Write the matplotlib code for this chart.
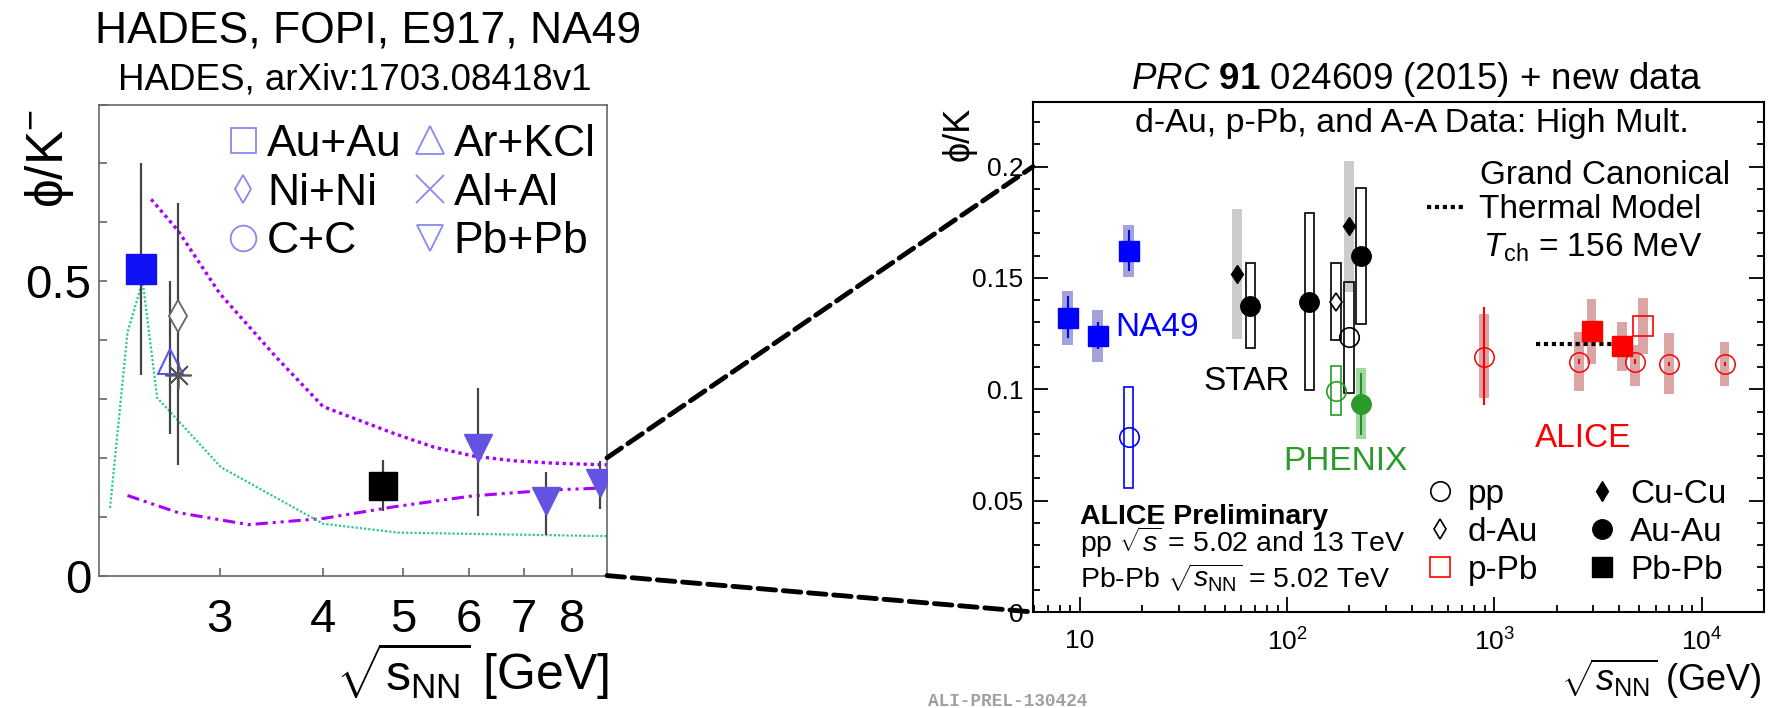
import numpy as np
import matplotlib
matplotlib.use("Agg")
import matplotlib.pyplot as plt
import matplotlib.ticker as mticker
from matplotlib.lines import Line2D
from matplotlib.patches import Rectangle, ConnectionPatch

plt.rcParams['font.family'] = ['Liberation Sans', 'DejaVu Sans']
plt.rcParams['mathtext.fontset'] = 'custom'
plt.rcParams['mathtext.rm'] = 'Liberation Sans'
plt.rcParams['mathtext.it'] = 'Liberation Sans:italic'
plt.rcParams['mathtext.bf'] = 'Liberation Sans:bold'

# ---------------- left panel data (HADES, FOPI, E917, NA49) ----------------
auau_x, auau_y, auau_lo, auau_hi = [2.41], [0.521], [0.34], [0.70]
arkcl_x, arkcl_y, arkcl_lo, arkcl_hi = [2.61], [0.365], [0.241], [0.50]
nini_x, nini_y, nini_lo, nini_hi = [2.67], [0.44], [0.188], [0.632]
alal_x, alal_y = [2.67], [0.34]
e917_x, e917_y, e917_lo, e917_hi = [4.73], [0.153], [0.109], [0.197]
pbpb_x = [6.16, 7.45, 8.66]
pbpb_y = [0.216, 0.126, 0.157]
pbpb_lo = [0.101, 0.069, 0.113]
pbpb_hi = [0.319, 0.176, 0.194]

upper_x = [2.478, 2.67, 3.0, 3.51, 4.0, 4.88, 5.45, 6.08, 6.8, 7.58, 8.82]
upper_y = [0.639, 0.586, 0.479, 0.371, 0.287, 0.241, 0.218, 0.203, 0.195, 0.191, 0.188]
lower_x = [2.32, 2.67, 3.25, 4.0, 4.88, 6.08, 7.58, 8.82]
lower_y = [0.136, 0.107, 0.0865, 0.097, 0.117, 0.1355, 0.1455, 0.149]
green_x = [2.21, 2.32, 2.42, 2.52, 3.01, 4.0, 4.93, 8.82]
green_y = [0.115, 0.413, 0.50, 0.302, 0.184, 0.088, 0.073, 0.067]

left_xticks = [3, 4, 5, 6, 7, 8]

# ---------------- right panel data (phi/K vs sqrt(s_NN)) ----------------
na49_x = [8.75, 12.2, 17.2]
na49_y = [0.132, 0.124, 0.162]
na49_stat_lo = [0.123, 0.118, 0.153]
na49_stat_hi = [0.1417, 0.130, 0.1716]
na49_sys_lo = [0.120, 0.1124, 0.1506]
na49_sys_hi = [0.1443, 0.1357, 0.1739]
na49pp_x, na49pp_y, na49pp_lo, na49pp_hi = [17.2], [0.0785], [0.0556], [0.101]

star_cucu_x = [57.3, 198.7]
star_cucu_y = [0.1517, 0.1731]
star_cucu_lo = [0.1225, 0.1439]
star_cucu_hi = [0.181, 0.2026]
star_auau_x = [66.5, 128.0, 227.6]
star_auau_y = [0.1375, 0.1394, 0.1599]
star_auau_lo = [0.1185, 0.0997, 0.1292]
star_auau_hi = [0.1566, 0.179, 0.1905]
star_dau_x, star_dau_y, star_dau_lo, star_dau_hi = [172.5], [0.1394], [0.1222], [0.1566]
star_pp_x, star_pp_y, star_pp_lo, star_pp_hi = [198.7], [0.1237], [0.0985], [0.1484]

phenix_pp_x, phenix_pp_y, phenix_pp_lo, phenix_pp_hi = [172.5], [0.0994], [0.0885], [0.1105]
phenix_auau_x, phenix_auau_y = [227.6], [0.0934]
phenix_auau_lo, phenix_auau_hi = [0.0776], [0.1095]
phenix_auau_stat_lo, phenix_auau_stat_hi = [0.0795], [0.1072]

alice_pp_x = [895, 2550, 4750, 6970, 12900]
alice_pp_y = [0.1147, 0.1124, 0.1124, 0.1114, 0.1114]
alice_pp_stat_lo = [0.093, 0.1114, 0.1114, 0.1104, 0.1104]
alice_pp_stat_hi = [0.1369, 0.1134, 0.1134, 0.1124, 0.1124]
alice_pp_sys_lo = [0.096, 0.0993, 0.1017, 0.0978, 0.1017]
alice_pp_sys_hi = [0.1339, 0.1256, 0.120, 0.1252, 0.1212]
alice_pbpb_x = [2944, 4140]
alice_pbpb_y = [0.1262, 0.1195]
alice_pbpb_lo = [0.1114, 0.1084]
alice_pbpb_hi = [0.1405, 0.1304]
alice_ppb_x, alice_ppb_y, alice_ppb_lo, alice_ppb_hi = [5224], [0.1285], [0.1158], [0.1409]

thermal_x = [1590, 4300]
thermal_y = [0.1202, 0.1202]

right_xticks = [10, 100, 1000, 10000]
right_xticklabels = ['10', '$10^{2}$', '$10^{3}$', '$10^{4}$']
right_yticks = [0, 0.05, 0.1, 0.15, 0.2]
right_yticklabels = ['0', '0.05', '0.1', '0.15', '0.2']

# ---------------- figure ----------------
W, H = 1777, 708
fig = plt.figure(figsize=(W / 100, H / 100), dpi=100)


def fx(x):
    return x / W


def fy(y):
    return 1 - y / H


def yerr(y, lo, hi):
    return [np.subtract(y, lo), np.subtract(hi, y)]


def sys_boxes(ax, x, lo, hi, half, **kw):
    # boxes of constant width on a log axis (half width in decades)
    for xi, l, h in zip(x, lo, hi):
        x0 = xi * 10 ** (-half)
        ax.add_patch(Rectangle((x0, l), xi * 10 ** half - x0, h - l, **kw))


axL = fig.add_axes([fx(98.5), fy(575.6), (607 - 98.5) / W, (575.6 - 104.5) / H])
axR = fig.add_axes([fx(1033), fy(612), (1764 - 1033) / W, (612 - 102) / H])

# ---- left panel ----
violet = '#a800ff'
axL.plot(upper_x, upper_y, color=violet, lw=2.4, ls=(0, (1, 1.1)))
axL.plot(lower_x, lower_y, color=violet, lw=2.2, ls=(0, (4, 1.6, 1, 1.6, 1, 1.6)))
axL.plot(green_x, green_y, color='#2fc890', lw=1.6, ls=(0, (1, 0.9)))

ebkw = dict(fmt='none', ecolor='#444444', elinewidth=1.6, capsize=0, zorder=2)
axL.errorbar(auau_x, auau_y, yerr=yerr(auau_y, auau_lo, auau_hi), **ebkw)
axL.errorbar(arkcl_x, arkcl_y, yerr=yerr(arkcl_y, arkcl_lo, arkcl_hi), **ebkw)
axL.errorbar(nini_x, nini_y, yerr=yerr(nini_y, nini_lo, nini_hi), **ebkw)
axL.errorbar(e917_x, e917_y, yerr=yerr(e917_y, e917_lo, e917_hi), **ebkw)
axL.errorbar(pbpb_x, pbpb_y, yerr=yerr(pbpb_y, pbpb_lo, pbpb_hi), **ebkw)

axL.plot(auau_x, auau_y, 's', ms=21.5, color='#1010f5', zorder=3)
axL.plot(arkcl_x, arkcl_y, '^', ms=18, mfc='none', mec='#5858ff', mew=1.5, zorder=3)
axL.plot(nini_x, nini_y, 'd', ms=16, mfc='white', mec='#666666', mew=1.3, zorder=3)
axL.plot(alal_x, alal_y, marker=(8, 2, 0), ls='none', ms=19, mec='#555555', mew=1.2, zorder=3)
axL.plot(e917_x, e917_y, 's', ms=20, color='black', zorder=3)
axL.plot(pbpb_x, pbpb_y, 'v', ms=20, color='#6453e0', zorder=3)

axL.set_xscale('log')
axL.set_xlim(2.14, 8.82)
axL.set_ylim(0, 0.8)
axL.set_xticks(left_xticks)
axL.set_xticklabels([str(t) for t in left_xticks])
axL.xaxis.set_minor_locator(mticker.NullLocator())
axL.set_yticks([0, 0.5])
axL.set_yticklabels(['0', '0.5'])
axL.yaxis.set_minor_locator(mticker.MultipleLocator(0.1))
axL.tick_params(which='both', direction='in', length=6, width=1.2, color='#666666', labelsize=34)
axL.tick_params(axis='x', pad=16)
axL.tick_params(axis='y', pad=5)
for s in axL.spines.values():
    s.set_color('#666666')
    s.set_linewidth(1.2)

lc = '#8888f0'
left_handles = [
    Line2D([], [], ls='none', marker='s', ms=18, mfc='none', mec=lc, mew=1.3),
    Line2D([], [], ls='none', marker='d', ms=14, mfc='none', mec=lc, mew=1.3),
    Line2D([], [], ls='none', marker='o', ms=18.5, mfc='none', mec=lc, mew=1.3),
    Line2D([], [], ls='none', marker='^', ms=20, mfc='none', mec=lc, mew=1.3),
    Line2D([], [], ls='none', marker='x', ms=20, mec=lc, mew=1.3),
    Line2D([], [], ls='none', marker='v', ms=19, mfc='none', mec=lc, mew=1.3),
]
left_labels = ['Au+Au', 'Ni+Ni', 'C+C', 'Ar+KCl', 'Al+Al', 'Pb+Pb']
axL.legend(left_handles, left_labels, ncol=2, loc='center left', bbox_to_anchor=(0.258, 0.812),
           frameon=False, fontsize=32, handlelength=0.6, handletextpad=0.24,
           columnspacing=0.33, labelspacing=0.17, borderpad=0, borderaxespad=0)

fig.text(fx(368), fy(43), 'HADES, FOPI, E917, NA49', fontsize=32, ha='center', va='baseline')
fig.text(fx(355), fy(90), 'HADES, arXiv:1703.08418v1', fontsize=26.5, ha='center', va='baseline')
fig.text(fx(50), fy(158), 'ϕ/K$^{-}$', fontsize=37, rotation=90, ha='center', va='center')
fig.text(fx(609), fy(690), r'$\sqrt{\mathrm{s}_{\mathrm{NN}}}$ [GeV]', fontsize=36, ha='right', va='baseline')

# ---- right panel ----
sys_boxes(axR, na49_x, na49_sys_lo, na49_sys_hi, 0.026, color='#a3a3dc', lw=0, zorder=1)
sys_boxes(axR, star_cucu_x, star_cucu_lo, star_cucu_hi, 0.0225, color='#cccccc', lw=0, zorder=1)
sys_boxes(axR, phenix_auau_x, phenix_auau_lo, phenix_auau_hi, 0.0225, color='#a2d8a2', lw=0, zorder=1)
sys_boxes(axR, alice_pp_x, alice_pp_sys_lo, alice_pp_sys_hi, 0.024, color='#d9a5a5', lw=0, zorder=1)
sys_boxes(axR, alice_pbpb_x, alice_pbpb_lo, alice_pbpb_hi, 0.024, color='#d9a5a5', lw=0, zorder=1)
sys_boxes(axR, alice_ppb_x, alice_ppb_lo, alice_ppb_hi, 0.024, color='#d9a5a5', lw=0, zorder=1)

sys_boxes(axR, na49pp_x, na49pp_lo, na49pp_hi, 0.0225, fill=False, ec='#0000ff', lw=1.2, zorder=2)
sys_boxes(axR, star_auau_x, star_auau_lo, star_auau_hi, 0.0225, fill=False, ec='black', lw=1.2, zorder=2)
sys_boxes(axR, star_dau_x, star_dau_lo, star_dau_hi, 0.0225, fill=False, ec='black', lw=1.2, zorder=2)
sys_boxes(axR, star_pp_x, star_pp_lo, star_pp_hi, 0.0225, fill=False, ec='black', lw=1.2, zorder=2)
sys_boxes(axR, phenix_pp_x, phenix_pp_lo, phenix_pp_hi, 0.0225, fill=False, ec='#2a9a2a', lw=1.2, zorder=2)

axR.plot(thermal_x, thermal_y, color='black', lw=3, ls=(0, (1, 0.9)), zorder=2)

rb = dict(fmt='none', capsize=0, elinewidth=1.5, zorder=2.5)
axR.errorbar(na49_x, na49_y, yerr=yerr(na49_y, na49_stat_lo, na49_stat_hi), ecolor='#0000ff', **rb)
axR.errorbar(alice_pp_x, alice_pp_y, yerr=yerr(alice_pp_y, alice_pp_stat_lo, alice_pp_stat_hi), ecolor='#ff0000', **rb)
axR.errorbar(phenix_auau_x, phenix_auau_y,
             yerr=yerr(phenix_auau_y, phenix_auau_stat_lo, phenix_auau_stat_hi), ecolor='#2a8a2a', **rb)

axR.plot(na49_x, na49_y, 's', ms=14, color='#0000ff', zorder=3)
axR.plot(na49pp_x, na49pp_y, 'o', ms=14, mfc='none', mec='#0000ff', mew=1.2, zorder=3)
axR.plot(star_cucu_x, star_cucu_y, 'd', ms=9.5, color='black', zorder=3)
axR.plot(star_auau_x, star_auau_y, 'o', ms=14, color='black', zorder=3)
axR.plot(star_dau_x, star_dau_y, 'd', ms=9.5, mfc='white', mec='black', mew=1.2, zorder=3)
axR.plot(star_pp_x, star_pp_y, 'o', ms=14, mfc='none', mec='black', mew=1.2, zorder=3)
axR.plot(phenix_pp_x, phenix_pp_y, 'o', ms=14, mfc='none', mec='#2a9a2a', mew=1.2, zorder=3)
axR.plot(phenix_auau_x, phenix_auau_y, 'o', ms=14, color='#2a9a2a', zorder=3)
axR.plot(alice_pp_x, alice_pp_y, 'o', ms=14, mfc='none', mec='#ff0000', mew=1.1, zorder=3)
axR.plot(alice_pbpb_x, alice_pbpb_y, 's', ms=14, color='#ff0000', zorder=3)
axR.plot(alice_ppb_x, alice_ppb_y, 's', ms=14, mfc='none', mec='#ff0000', mew=1.2, zorder=3)

axR.set_xscale('log')
axR.set_xlim(5.95, 2.0e4)
axR.set_ylim(0, 0.229)
axR.set_xticks(right_xticks)
axR.set_xticklabels(right_xticklabels)
axR.xaxis.set_minor_locator(mticker.LogLocator(base=10, subs=np.arange(2, 10)))
axR.xaxis.set_minor_formatter(mticker.NullFormatter())
axR.set_yticks(right_yticks)
axR.set_yticklabels(right_yticklabels)
axR.yaxis.set_minor_locator(mticker.MultipleLocator(0.01))
axR.tick_params(which='both', direction='in', top=False, right=True, width=1.3, labelsize=19)
axR.tick_params(which='major', length=11)
axR.tick_params(which='minor', length=5)
axR.tick_params(axis='x', pad=12)
axR.tick_params(axis='y', pad=7)
for s in axR.spines.values():
    s.set_linewidth(1.5)

therm = axR.legend([Line2D([], [], color='black', lw=3, ls=(0, (1, 0.9)))], ['Thermal Model'],
                   loc='center left', bbox_to_anchor=((1427 - 1033) / 731, (612 - 210) / 510),
                   frameon=False, fontsize=24, handlelength=1.18, handletextpad=0.38,
                   borderpad=0, borderaxespad=0)
axR.add_artist(therm)

right_handles = [
    Line2D([], [], ls='none', marker='o', ms=14, mfc='none', mec='black', mew=1.2),
    Line2D([], [], ls='none', marker='d', ms=10, mfc='none', mec='black', mew=1.2),
    Line2D([], [], ls='none', marker='s', ms=14, mfc='none', mec='#ff0000', mew=1.2),
    Line2D([], [], ls='none', marker='d', ms=10, color='black'),
    Line2D([], [], ls='none', marker='o', ms=14, color='black'),
    Line2D([], [], ls='none', marker='s', ms=14, color='black'),
]
right_labels = ['pp', 'd-Au', 'p-Pb', 'Cu-Cu', 'Au-Au', 'Pb-Pb']
axR.legend(right_handles, right_labels, ncol=2, loc='center left', bbox_to_anchor=(0.536, 0.156),
           frameon=False, fontsize=24, handlelength=0.9, handletextpad=0.39,
           columnspacing=1.47, labelspacing=0.21, borderpad=0, borderaxespad=0)

fig.text(fx(1416), fy(89), r'$\mathit{PRC}$ $\mathbf{91}$ 024609 (2015) + new data',
         fontsize=26.5, ha='center', va='baseline')
fig.text(fx(1135), fy(131.7), 'd-Au, p-Pb, and A-A Data: High Mult.', fontsize=24.5, va='baseline')
fig.text(fx(1480), fy(184), 'Grand Canonical', fontsize=24, va='baseline')
fig.text(fx(1483), fy(256.7), r'$T_{\mathrm{ch}}$ = 156 MeV', fontsize=24, va='baseline')
fig.text(fx(959), fy(134), 'ϕ/K', fontsize=26, rotation=90, ha='center', va='center')
fig.text(fx(1115), fy(335.7), 'NA49', fontsize=24, color='#0000ff', va='baseline')
fig.text(fx(1203), fy(390), 'STAR', fontsize=24, color='black', va='baseline')
fig.text(fx(1283), fy(470), 'PHENIX', fontsize=24, color='#2a9a2a', va='baseline')
fig.text(fx(1535), fy(447), 'ALICE', fontsize=24, color='#ff0000', va='baseline')
fig.text(fx(1080), fy(524), 'ALICE Preliminary', fontsize=20.5, fontweight='bold', va='baseline')
fig.text(fx(1080), fy(551.7), r'pp $\sqrt{s}$ = 5.02 and 13 TeV', fontsize=20.5, va='baseline')
fig.text(fx(1080), fy(588), r'Pb-Pb $\sqrt{s_{\mathrm{NN}}}$ = 5.02 TeV', fontsize=20.5, va='baseline')
fig.text(fx(1762), fy(690.7), r'$\sqrt{s_{\mathrm{NN}}}$ (GeV)', fontsize=26, ha='right', va='baseline')
fig.text(fx(1008), fy(706), 'ALI-PREL-130424', fontsize=12.8, family='Liberation Mono',
         fontweight='bold', color='#a0a0a0', ha='center', va='baseline')

# ---- dashed zoom connectors ----
for yv in [0.2, 0.0]:
    con = ConnectionPatch(xyA=(axL.get_xlim()[1], yv), coordsA='data', axesA=axL,
                          xyB=(axR.get_xlim()[0], yv), coordsB='data', axesB=axR,
                          color='black', lw=3.5, ls=(0, (3.6, 1.6)), zorder=5)
    fig.add_artist(con)

fig.savefig('out.png', dpi=100)
